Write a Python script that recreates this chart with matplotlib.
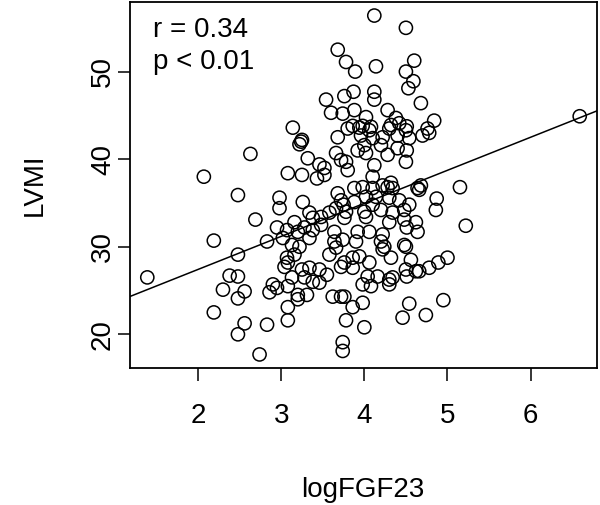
import numpy as np
import matplotlib.pyplot as plt

plt.rcParams['font.family'] = ['Liberation Sans', 'DejaVu Sans']

# logFGF23 values (x) and LVMI values (y)
log_fgf23 = [
    4.12, 4.50, 3.68, 3.78, 3.89, 4.14, 4.60, 4.50, 4.59, 4.53,
    3.87, 3.76, 4.12, 4.12, 4.68, 3.74, 3.88, 4.28, 4.38, 4.02,
    3.86, 3.98, 4.08, 4.32, 4.42, 4.51, 3.54, 3.60, 3.14, 4.84,
    4.76, 6.59, 4.78, 4.70, 4.68, 4.66, 5.15, 4.87, 4.86, 5.22,
    5.00, 4.89, 4.78, 4.66, 4.95, 4.74, 2.63, 2.07, 2.48, 2.69,
    2.19, 2.48, 1.39, 2.38, 2.48, 2.30, 2.56, 2.48, 2.19, 2.56,
    2.48, 2.74, 3.25, 3.22, 3.24, 3.68, 3.66, 3.32, 3.46, 3.52,
    3.72, 3.08, 3.25, 3.43, 3.52, 2.98, 2.98, 3.26, 3.68, 3.72,
    3.34, 3.38, 3.48, 3.58, 3.66, 2.95, 3.07, 3.16, 3.20, 3.28,
    3.38, 3.48, 3.64, 2.83, 3.02, 3.34, 3.13, 3.22, 3.64, 3.07,
    3.16, 3.08, 3.04, 3.25, 3.34, 3.46, 3.55, 3.13, 3.28, 3.38,
    3.46, 2.90, 2.95, 2.86, 3.08, 3.20, 3.20, 3.31, 3.62, 3.72,
    3.08, 3.08, 2.83, 3.58, 3.66, 3.72, 3.74, 3.74, 3.76, 3.86,
    3.94, 3.86, 4.06, 4.22, 4.32, 4.50, 4.56, 4.50, 4.62, 4.51,
    4.04, 4.16, 3.98, 4.08, 4.30, 4.34, 4.30, 3.76, 3.98, 3.86,
    3.78, 4.00, 4.54, 4.46, 3.80, 3.94, 4.06, 4.30, 4.50, 3.96,
    4.10, 4.22, 4.40, 4.54, 4.00, 3.92, 4.02, 4.20, 4.28, 4.40,
    4.51, 4.50, 4.12, 3.78, 3.80, 4.10, 3.88, 3.98, 4.10, 4.22,
    4.28, 4.34, 4.32, 4.64, 3.75, 3.88, 4.02, 4.14, 4.30, 4.42,
    4.54, 4.10, 4.00, 4.02, 4.20, 4.34, 4.48, 4.48, 4.62, 4.30,
    3.78, 3.76, 3.92, 4.06, 4.22, 4.51, 4.64, 3.90, 4.20, 4.24,
    4.48, 3.74,
]
lvmi = [
    56.4, 55.0, 52.5, 51.1, 50.0, 50.6, 51.25, 50.0, 48.9, 48.1,
    47.7, 47.2, 47.7, 46.8, 46.4, 45.2, 45.6, 45.6, 44.7, 44.8,
    43.8, 43.8, 43.7, 43.9, 44.1, 43.75, 46.8, 45.3, 43.6, 44.4,
    43.5, 44.9, 43.0, 42.7, 37.0, 36.5, 36.8, 35.5, 34.2, 32.4,
    28.75, 28.2, 27.6, 27.2, 23.9, 22.2, 40.6, 38.0, 35.9, 33.1,
    30.7, 29.1, 26.5, 26.7, 26.6, 25.1, 24.9, 24.1, 22.5, 21.25,
    20.0, 17.7, 42.2, 41.7, 42.0, 42.5, 40.7, 40.1, 39.4, 39.0,
    39.9, 38.4, 38.2, 37.8, 38.2, 35.6, 34.4, 35.1, 36.1, 35.3,
    33.9, 33.3, 33.4, 33.9, 34.4, 32.2, 31.9, 32.8, 31.7, 32.2,
    31.9, 32.5, 31.7, 30.6, 31.0, 31.0, 30.2, 30.0, 30.6, 28.75,
    29.1, 28.2, 27.7, 27.4, 27.6, 27.4, 26.8, 26.5, 26.5, 26.0,
    25.9, 25.7, 25.3, 24.8, 25.5, 24.5, 24.0, 24.5, 24.3, 24.3,
    23.1, 21.6, 21.1, 29.1, 29.9, 27.7, 19.1, 18.1, 28.2, 28.75,
    28.9, 27.6, 28.2, 29.7, 28.75, 30.0, 28.5, 27.4, 27.2, 26.6,
    26.6, 26.6, 25.7, 25.5, 26.25, 26.5, 25.7, 24.3, 23.6, 23.1,
    21.6, 20.8, 23.5, 21.9, 43.5, 43.6, 43.3, 43.5, 43.3, 42.7,
    42.4, 42.5, 42.7, 42.4, 41.6, 41.0, 40.7, 41.6, 40.5, 41.25,
    41.0, 39.7, 39.3, 39.7, 38.75, 38.0, 36.7, 36.8, 36.7, 37.0,
    36.8, 36.7, 37.3, 36.7, 34.8, 35.1, 35.7, 35.7, 35.6, 35.3,
    34.8, 34.8, 34.0, 33.4, 34.2, 33.9, 34.2, 33.1, 32.8, 32.8,
    34.0, 33.3, 31.7, 31.7, 31.4, 32.2, 31.7, 30.6, 30.6, 30.0,
    30.2, 30.8,
]
x_ticks = [2, 3, 4, 5, 6]
y_ticks = [20, 30, 40, 50]
stats_text = ["r = 0.34", "p < 0.01"]

x = np.array(log_fgf23)
y = np.array(lvmi)

W, H = 600, 505
fig = plt.figure(figsize=(W / 100, H / 100), dpi=100)
ax = fig.add_axes([130 / W, 1 - 368 / H, 467 / W, 366 / H])

ax.scatter(x, y, s=90, facecolors='none', edgecolors='black', linewidths=1.1, zorder=2)

slope, intercept = np.polyfit(x, y, 1)
xs = np.array([0, 8])
ax.plot(xs, intercept + slope * xs, color='black', lw=1.1, zorder=3)

# R-style 4% padding around the data range
xr = x.max() - x.min()
yr = y.max() - y.min()
ax.set_xlim(x.min() - 0.04 * xr, x.max() + 0.04 * xr)
ax.set_ylim(y.min() - 0.04 * yr, y.max() + 0.04 * yr)

fs = 20
ax.set_xticks(x_ticks)
ax.set_yticks(y_ticks)
ax.set_yticklabels([str(t) for t in y_ticks], rotation=90, va='center')
ax.tick_params(length=9, width=1.1, labelsize=fs, color='black')
ax.tick_params(axis='x', pad=16)
ax.tick_params(axis='y', pad=1)
for sp in ax.spines.values():
    sp.set_linewidth(1.3)

ax.text(0.05, 0.923, stats_text[0], transform=ax.transAxes, fontsize=fs, va='center')
ax.text(0.05, 0.836, stats_text[1], transform=ax.transAxes, fontsize=fs, va='center')

fig.text(363 / W, 1 - 490 / H, "logFGF23", ha='center', va='center', fontsize=fs)
fig.text(35 / W, 1 - 185 / H, "LVMI", ha='center', va='center', rotation=90, fontsize=fs)

fig.savefig("out.png", dpi=100)
